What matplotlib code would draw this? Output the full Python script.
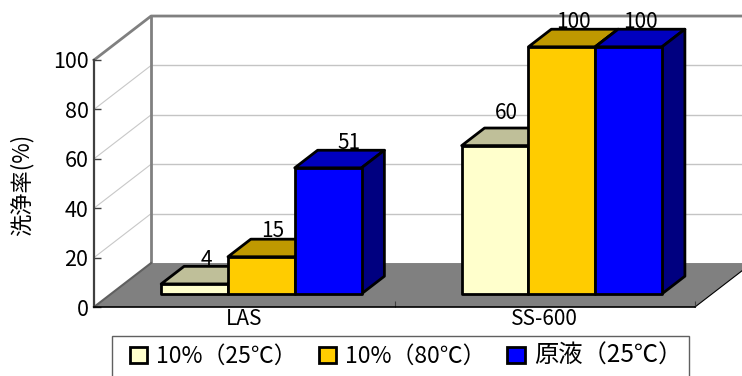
# -*- coding: utf-8 -*-
import matplotlib
matplotlib.use("Agg")
import matplotlib.pyplot as plt
from matplotlib.patches import Patch, Polygon, Rectangle

plt.rcParams['font.family'] = ['Noto Sans CJK JP', 'DejaVu Sans']

categories = ['LAS', 'SS-600']
series_names = ['10%\uff0825℃\uff09', '10%\uff0880℃\uff09', '原液\uff0825℃\uff09']
values_25 = [4, 60]
values_80 = [15, 100]
values_neat = [51, 100]
yticks = [0, 20, 40, 60, 80, 100]

front_colors = ['#FFFFCC', '#FFCC00', '#0000FF']
top_colors = ['#BFBF99', '#BF9900', '#0000BF']
side_colors = ['#BFBF99', '#BF9900', '#000080']

# hand placement of a few value labels, in points from the default spot
label_nudge = {(0, 2): (6.5, 0), (0, 1): (0, 1), (1, 0): (0, 6)}

# the oblique depth of the box, in axis units
DEPTH_X = 0.19
DEPTH_Y = 17.8
BAR_W = 1 / 4.5


def proj(x, y, d):
    """Project a point at depth fraction d onto the flat axes"""
    return x + d * DEPTH_X, y + d * DEPTH_Y


def face(ax, points, color, z, lw=0, edge='none'):
    ax.add_patch(Polygon(points, closed=True, facecolor=color, edgecolor=edge, lw=lw,
                         joinstyle='round', clip_on=False, zorder=z))


def draw_bar(ax, c, x, value, i, z):
    x2 = x + BAR_W
    # bars sit between 30% and 70% of the depth of the floor
    p1 = proj(x, 0, 0.3)
    p2 = proj(x2, 0, 0.3)
    p3 = proj(x2, value, 0.3)
    p4 = proj(x, value, 0.3)
    p5 = proj(x, value, 0.7)
    p6 = proj(x2, value, 0.7)
    p7 = proj(x2, 0, 0.7)
    face(ax, [p4, p5, p6, p3], top_colors[i], z, 2, 'black')
    face(ax, [p2, p7, p6, p3], side_colors[i], z, 2, 'black')
    face(ax, [p1, p2, p3, p4], front_colors[i], z + 0.1, 2, 'black')
    nx, ny = label_nudge.get((c, i), (0, 0))
    lx = proj(x + BAR_W / 2, value, 0.5)[0]
    ly = proj(0, value, 0.7)[1]
    ax.annotate(str(value), (lx, ly), xytext=(nx, ny - 3), textcoords='offset points',
                ha='center', va='bottom', fontsize=15, zorder=50, annotation_clip=False)


fig = plt.figure(figsize=(7.42, 3.76), dpi=100)
ax = fig.add_axes([94 / 742, 69 / 376, 601 / 742, 247 / 376])
ax.set_xlim(0, 2)
ax.set_ylim(0, 100)

for s in ['top', 'right']:
    ax.spines[s].set_visible(False)
ax.spines['left'].set_color('#404040')
ax.spines['left'].set_linewidth(1.6)
ax.spines['bottom'].set_color('black')
ax.spines['bottom'].set_linewidth(1.2)
ax.patch.set_visible(False)

# floor and walls
face(ax, [proj(0, 0, 0), proj(0, 0, 1), proj(2, 0, 1), proj(2, 0, 0)], '#808080', 0.5)
ax.plot(*zip(proj(2, 0, 0), proj(2, 0, 1)), color='black', lw=0.8, clip_on=False, zorder=0.6)
for t in yticks[1:-1]:
    ax.plot(*zip(proj(0, t, 0), proj(0, t, 1)), color='#C8C8C8', lw=0.8, zorder=0.4, clip_on=False)
    ax.plot(*zip(proj(0, t, 1), proj(2, t, 1)), color='#C4C4C4', lw=1, zorder=0.4, clip_on=False)
wall = '#808080'
ax.plot(*zip(proj(0, 0, 1), proj(0, 100, 1)), color=wall, lw=2, zorder=0.7, clip_on=False)
ax.plot(*zip(proj(0, 100, 0), proj(0, 100, 1), proj(2, 100, 1)), color=wall, lw=2,
        zorder=0.7, clip_on=False)
ax.plot(*zip(proj(0, 0, 0), proj(0, 0, 1)), color='#606060', lw=1.5, zorder=0.7, clip_on=False)

# bars, left to right so each one covers the side of the one before
all_values = [values_25, values_80, values_neat]
z = 2
for c in range(len(categories)):
    for i in range(3):
        draw_bar(ax, c, c + 0.75 * BAR_W + i * BAR_W, all_values[i][c], i, z)
        z += 1

ax.set_yticks(yticks)
ax.tick_params(axis='y', direction='in', length=5, width=1, color='#404040', labelsize=15.5, pad=4)
ax.set_xticks([0, 1, 2])
ax.set_xticklabels([])
ax.set_xticks([0.5, 1.5], labels=categories, minor=True)
ax.tick_params(axis='x', which='major', direction='in', length=4, width=0.8, color='#404040')
ax.tick_params(axis='x', which='minor', length=0, labelsize=15, pad=1)
ax.set_ylabel('洗浄率(%)', fontsize=16)
ax.yaxis.set_label_coords(-60 / 601, 0.495)

# legend frame runs past the bottom edge of the figure
fig.add_artist(Rectangle((112 / 742, -0.05), 577 / 742, 1 - 336 / 376 + 0.05, transform=fig.transFigure,
                         facecolor='white', edgecolor='#606060', lw=1))
handles = [Patch(facecolor=front_colors[i], edgecolor='black', lw=2) for i in range(3)]
leg = fig.legend(handles, series_names, ncol=3, loc='upper left', bbox_to_anchor=(130 / 742, 1 - 343 / 376),
                 borderaxespad=0, frameon=False, fontsize=16.5, borderpad=0,
                 handlelength=0.75, handleheight=0.75, handletextpad=0.4, columnspacing=0.95)
leg.get_texts()[2].set_fontsize(17.5)

fig.savefig('out.png', dpi=100)
